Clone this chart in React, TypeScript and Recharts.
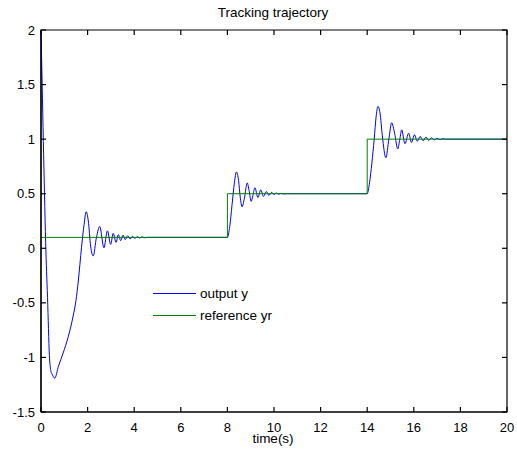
import { LineChart, Line, XAxis, YAxis, ReferenceArea } from 'recharts'

// output y as [time, value]
const firstResponse: [number, number][] = [
  [0, 2.0], [0.05, 1.5], [0.1, 0.98], [0.15, 0.5], [0.2, 0.05],
  [0.28, -0.45], [0.36, -0.98], [0.43, -1.13], [0.47, -1.15], [0.59, -1.19],
  [0.75, -1.08], [0.95, -0.96], [1.17, -0.81], [1.38, -0.62], [1.5, -0.48],
  [1.6, -0.3], [1.74, 0.01], [1.85, 0.22], [1.94, 0.335], [2.03, 0.25],
  [2.13, 0.02], [2.24, -0.07], [2.38, 0.1], [2.52, 0.2], [2.7, 0.005],
  [2.85, 0.16], [2.99, 0.036], [3.1, 0.137], [3.22, 0.055], [3.32, 0.125],
  [3.42, 0.07], [3.52, 0.12], [3.62, 0.08], [3.72, 0.115], [3.82, 0.085],
  [3.93, 0.11], [4.03, 0.09], [4.13, 0.107], [4.23, 0.094], [4.33, 0.104],
  [4.45, 0.097], [4.6, 0.1], [8.0, 0.1],
]
const secondResponse: [number, number][] = [
  [8.1, 0.2], [8.2, 0.4], [8.3, 0.6], [8.39, 0.7], [8.48, 0.62],
  [8.55, 0.47], [8.63, 0.38], [8.73, 0.46], [8.85, 0.6], [8.93, 0.53],
  [9.02, 0.43], [9.1, 0.49], [9.18, 0.555], [9.31, 0.465], [9.43, 0.535],
  [9.55, 0.475], [9.67, 0.52], [9.78, 0.485], [9.9, 0.512], [10.0, 0.492],
  [10.1, 0.507], [10.2, 0.495], [10.3, 0.504], [10.4, 0.498], [10.55, 0.5],
  [14.0, 0.5],
]
const thirdResponse: [number, number][] = [
  [14.1, 0.6], [14.2, 0.78], [14.3, 1.0], [14.38, 1.2], [14.46, 1.3],
  [14.55, 1.24], [14.65, 1.03], [14.8, 0.83], [14.93, 1.0], [15.05, 1.15],
  [15.18, 1.05], [15.31, 0.91], [15.4, 1.0], [15.48, 1.085], [15.62, 0.958],
  [15.78, 1.055], [15.9, 0.97], [16.03, 1.04], [16.15, 0.98], [16.27, 1.025],
  [16.4, 0.985], [16.52, 1.018], [16.64, 0.99], [16.76, 1.012], [16.88, 0.993],
  [17.0, 1.008], [17.12, 0.996], [17.25, 1.004], [17.35, 1.0], [20, 1.0],
]

// reference yr (step signal)
const refTimes = [0, 8, 8, 14, 14, 20]
const refValues = [0.1, 0.1, 0.5, 0.5, 1.0, 1.0]

const xTicks = [0, 2, 4, 6, 8, 10, 12, 14, 16, 18, 20]
const yTicks = [-1.5, -1, -0.5, 0, 0.5, 1, 1.5, 2]

const legendItems = [
  { name: 'output y', color: '#0000ff' },
  { name: 'reference yr', color: '#008000' },
]

const outputData = [...firstResponse, ...secondResponse, ...thirdResponse].map(([t, y]) => ({ t, y }))
const refData = refTimes.map((t, i) => ({ t, y: refValues[i] }))

const FONT = '"Liberation Sans", Arial, sans-serif'
const MARGIN = { top: 30, right: 10, bottom: 0, left: 0 }
const PLOT_TOP = MARGIN.top
const PLOT_RIGHT = 517 - MARGIN.right
const TICK_LEN = 5
const X_GAP = 11 // axis line -> top of x tick label
const Y_GAP = 6 // axis line -> right edge of y tick label

// MATLAB style box ticks: short marks pointing into the plot on both opposite sides
function BottomTick({ x, y, payload }: any) {
  const axisY = y - X_GAP
  return (
    <g>
      <path d={`M${x},${axisY}v${-TICK_LEN}`} stroke="#000" strokeWidth={1.2} fill="none" />
      <path d={`M${x},${PLOT_TOP}v${TICK_LEN}`} stroke="#000" strokeWidth={1.2} fill="none" />
      <text x={x} y={y} dy="0.71em" textAnchor="middle" fontSize={13} fill="#000" fontFamily={FONT}>
        {payload.value}
      </text>
    </g>
  )
}
function LeftTick({ x, y, payload }: any) {
  const axisX = x + Y_GAP
  return (
    <g>
      <path d={`M${axisX},${y}h${TICK_LEN}`} stroke="#000" strokeWidth={1.2} fill="none" />
      <path d={`M${PLOT_RIGHT},${y}h${-TICK_LEN}`} stroke="#000" strokeWidth={1.2} fill="none" />
      <text x={x} y={y} dy="0.355em" textAnchor="end" fontSize={13} fill="#000" fontFamily={FONT}>
        {payload.value}
      </text>
    </g>
  )
}

export default function App() {
  return (
    <div style={{ position: 'absolute', left: 0, top: 0, width: 517, height: 458, background: '#fff' }}>
      <LineChart width={517} height={458} margin={MARGIN}>
        <XAxis
          xAxisId="bottom"
          type="number"
          dataKey="t"
          domain={[0, 20]}
          ticks={xTicks}
          height={46}
          tick={<BottomTick />}
          tickSize={0}
          tickMargin={X_GAP}
          axisLine={{ stroke: '#000', strokeWidth: 1.2 }}
          tickLine={false}
          interval={0}
        />
        <YAxis
          yAxisId="left"
          type="number"
          domain={[-1.5, 2]}
          ticks={yTicks}
          width={41}
          tick={<LeftTick />}
          tickSize={0}
          tickMargin={Y_GAP}
          axisLine={{ stroke: '#000', strokeWidth: 1.2 }}
          tickLine={false}
          interval={0}
        />
        <ReferenceArea
          xAxisId="bottom"
          yAxisId="left"
          x1={0}
          x2={20}
          y1={-1.5}
          y2={2}
          fill="none"
          stroke="#000"
          strokeWidth={1.2}
          ifOverflow="visible"
        />
        <Line
          xAxisId="bottom"
          yAxisId="left"
          data={outputData}
          dataKey="y"
          name="output y"
          type="monotone"
          stroke="#0000ff"
          strokeWidth={1}
          dot={false}
          isAnimationActive={false}
        />
        <Line
          xAxisId="bottom"
          yAxisId="left"
          data={refData}
          dataKey="y"
          name="reference yr"
          type="linear"
          stroke="#008000"
          strokeWidth={1}
          dot={false}
          isAnimationActive={false}
        />
      </LineChart>
      <div style={{ position: 'absolute', left: 173, width: 200, top: 6, textAlign: 'center', fontSize: 13.5, lineHeight: 1, color: '#000', fontFamily: FONT }}>
        Tracking trajectory
      </div>
      <div style={{ position: 'absolute', left: 153, top: 282, fontSize: 13.5, color: '#000', fontFamily: FONT }}>
        {legendItems.map((item) => (
          <div key={item.name} style={{ display: 'flex', alignItems: 'center', height: 22 }}>
            <div style={{ width: 43, height: 1, background: item.color }} />
            <span style={{ marginLeft: 4, whiteSpace: 'nowrap' }}>{item.name}</span>
          </div>
        ))}
      </div>
      <div style={{ position: 'absolute', left: 173, width: 200, top: 432, textAlign: 'center', fontSize: 13.5, lineHeight: 1, color: '#000', fontFamily: FONT }}>
        time(s)
      </div>
    </div>
  )
}
